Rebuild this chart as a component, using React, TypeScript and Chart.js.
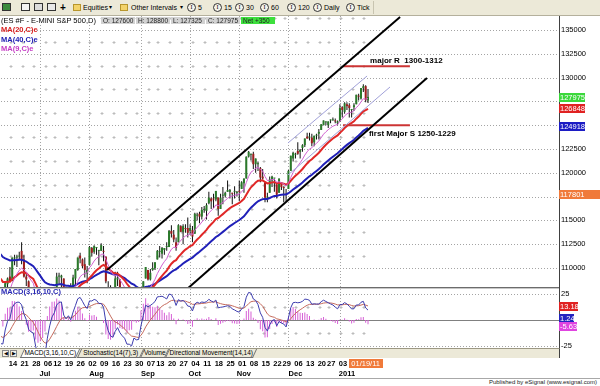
import React, { useEffect, useRef } from "react";
import { Chart, registerables } from "chart.js";

Chart.register(...registerables);

// trading-day index of the first bar (Tue 1 Jun 2010); index 0 = Mon 14 Jun 2010
const firstBarIndex = -9;

// ES #F daily bars, points
const opens = [
  1085, 1068, 1095, 1097, 1061, 1047, 1058, 1053, 1083,
  1091, 1087, 1110, 1111, 1112,
  1118, 1109, 1091, 1086, 1069,
  1073, 1067, 1036, 1027, 1024,
  1024, 1024, 1058, 1066,
  1073, 1076, 1091, 1090, 1089,
  1062, 1060, 1080, 1068, 1089,
  1098, 1113, 1109, 1104, 1094,
  1103, 1121, 1117, 1121, 1118,
  1118, 1118, 1112, 1077, 1078,
  1073, 1077, 1088, 1088, 1071,
  1069, 1058, 1044, 1052, 1045,
  1059, 1042, 1045, 1076, 1089,
  1098, 1088, 1098, 1100,
  1109, 1117, 1115, 1119, 1122,
  1122, 1139, 1135, 1127, 1127,
  1144, 1138, 1142, 1142, 1139,
  1140, 1136, 1155, 1157, 1154,
  1161, 1160, 1168, 1173, 1173,
  1172, 1174, 1162, 1176, 1176,
  1180, 1180, 1179, 1180, 1179,
  1181, 1183, 1189, 1194, 1217,
  1219, 1220, 1209, 1209, 1205,
  1196, 1190, 1174, 1179, 1192,
  1194, 1188, 1179, 1190,
  1185, 1178, 1183, 1202, 1215,
  1219, 1223, 1222, 1226, 1229,
  1238, 1237, 1237, 1232, 1239,
  1241, 1245, 1250, 1253,
  1250, 1255, 1255, 1255, 1252,
  1254, 1269, 1264, 1272, 1271,
  1266, 1269, 1272, 1281, 1278,
  1289, 1291, 1276,
];
const highs = [
  1094, 1096, 1103, 1098, 1066, 1059, 1074, 1085, 1090,
  1101, 1111, 1114, 1114, 1117,
  1127, 1114, 1095, 1087, 1079,
  1078, 1067, 1045, 1029, 1028,
  1038, 1056, 1067, 1074,
  1077, 1095, 1095, 1093, 1089,
  1070, 1080, 1084, 1093, 1099,
  1111, 1116, 1110, 1111, 1102,
  1123, 1122, 1124, 1122, 1119,
  1126, 1123, 1112, 1086, 1082,
  1078, 1096, 1096, 1088, 1071,
  1077, 1058, 1055, 1057, 1061,
  1060, 1051, 1077, 1086, 1101,
  1098, 1099, 1106, 1106,
  1119, 1123, 1122, 1121, 1127,
  1140, 1145, 1140, 1132, 1146,
  1145, 1146, 1146, 1153, 1146,
  1144, 1158, 1158, 1159, 1164,
  1165, 1168, 1180, 1174, 1178,
  1181, 1174, 1178, 1185, 1180,
  1192, 1183, 1179, 1186, 1181,
  1192, 1191, 1194, 1217, 1223,
  1220, 1222, 1215, 1212, 1206,
  1204, 1190, 1179, 1196, 1197,
  1194, 1188, 1194, 1190,
  1186, 1183, 1203, 1218, 1222,
  1221, 1232, 1225, 1230, 1236,
  1242, 1242, 1241, 1239, 1241,
  1246, 1251, 1255, 1254,
  1254, 1256, 1258, 1257, 1255,
  1272, 1270, 1274, 1274, 1273,
  1267, 1273, 1282, 1283, 1289,
  1293, 1292, 1288,
];
const lows = [
  1067, 1066, 1088, 1058, 1046, 1039, 1050, 1052, 1075,
  1085, 1086, 1103, 1101, 1109,
  1104, 1090, 1081, 1067, 1063,
  1067, 1034, 1025, 1006, 1011,
  1010, 1024, 1054, 1064,
  1066, 1076, 1083, 1076, 1059,
  1057, 1053, 1063, 1068, 1083,
  1097, 1105, 1100, 1090, 1084,
  1103, 1112, 1115, 1114, 1103,
  1118, 1107, 1084, 1072, 1075,
  1065, 1077, 1081, 1066, 1059,
  1063, 1042, 1035, 1041, 1035,
  1044, 1036, 1045, 1076, 1089,
  1087, 1087, 1097, 1098,
  1109, 1111, 1110, 1114, 1118,
  1122, 1132, 1127, 1118, 1127,
  1138, 1125, 1137, 1132, 1135,
  1127, 1136, 1150, 1147, 1151,
  1158, 1151, 1167, 1162, 1163,
  1170, 1155, 1162, 1167, 1174,
  1180, 1173, 1167, 1173, 1175,
  1170, 1183, 1179, 1194, 1216,
  1213, 1204, 1200, 1202, 1190,
  1193, 1169, 1169, 1179, 1185,
  1180, 1173, 1179, 1182,
  1169, 1170, 1183, 1202, 1212,
  1215, 1219, 1215, 1222, 1227,
  1236, 1234, 1228, 1228, 1235,
  1235, 1245, 1250, 1250,
  1247, 1252, 1255, 1252, 1250,
  1254, 1258, 1262, 1266, 1258,
  1258, 1265, 1272, 1276, 1277,
  1285, 1274, 1273.25,
];
const closes = [
  1068, 1095, 1099, 1061, 1047, 1058, 1052, 1084, 1089,
  1086, 1111, 1110, 1112, 1113,
  1109, 1091, 1088, 1070, 1073,
  1071, 1037, 1027, 1023, 1019,
  1024, 1056, 1066, 1074,
  1075, 1091, 1091, 1092, 1061,
  1067, 1079, 1066, 1090, 1099,
  1111, 1110, 1102, 1098, 1098,
  1122, 1116, 1123, 1122, 1118,
  1124, 1117, 1086, 1080, 1075,
  1075, 1089, 1090, 1072, 1068,
  1063, 1048, 1051, 1043, 1061,
  1045, 1045, 1076, 1086, 1101,
  1088, 1095, 1100, 1106,
  1118, 1117, 1121, 1121, 1122,
  1139, 1136, 1130, 1121, 1145,
  1138, 1144, 1141, 1137, 1142,
  1133, 1157, 1156, 1154, 1161,
  1161, 1166, 1174, 1170, 1172,
  1181, 1162, 1174, 1176, 1179,
  1182, 1182, 1178, 1180, 1179,
  1180, 1190, 1194, 1217, 1222,
  1219, 1209, 1215, 1209, 1195,
  1194, 1174, 1175, 1193, 1196,
  1194, 1177, 1194, 1185,
  1184, 1177, 1202, 1218, 1221,
  1219, 1220, 1224, 1229, 1236,
  1236, 1237, 1231, 1239, 1240,
  1243, 1251, 1255, 1253,
  1254, 1255, 1256, 1254, 1254,
  1268, 1266, 1273, 1270, 1268,
  1266, 1271, 1282, 1280, 1289,
  1291, 1276.25, 1279.75,
];

// starting values of the averages at the first bar
const ema9Seed = 1088;
const ema20Seed = 1105;
const ema40Seed = 1130;
const macdFastSeed = 1082;
const macdSlowSeed = 1098;
const macdSignalSeed = -12;

// weekly date axis (trading-day index of first session of each week)
const weekIdx = [0, 5, 10, 15, 19, 24, 29, 34, 39, 44, 49, 54, 59, 63, 68, 73, 78, 83, 88, 93, 98, 103, 108, 113, 117, 122, 127, 132, 136, 141, 146, 151];
const weekLabels = ["14", "21", "28", "06", "12", "19", "26", "02", "09", "16", "23", "30", "07", "13", "20", "27", "04", "11", "18", "25", "01", "08", "15", "22", "29", "06", "13", "20", "27", "03", "10", "18"];
const monthIdx = [15, 37, 59, 79, 100, 122, 144];
const monthLabels = ["Jul", "Aug", "Sep", "Oct", "Nov", "Dec", "2011"];
const monthStartIdx = [13, 34, 56, 77, 98, 119, 141];
const cursorIdx = 152;
const cursorLabel = "01/19/11";

// price axis (price x 100)
const priceGridLevels = [110000, 112500, 115000, 117500, 120000, 122500, 125000, 127500, 130000, 132500, 135000];
const priceTickLabels = [110000, 112500, 115000, 120000, 122500, 130000, 132500, 135000];
const priceTagValues = [127975, 126848, 124918, 117801];
const macdTicks = [25, 0, -25];
const macdTagValues = [13.18, 1.24, -5.63];

// drawn studies: [trading-day index, price x 100]
const upperChannel = [[41.5, 109790], [166.7, 136366]];
const lowerChannel = [[75.7, 107795], [178.2, 129958]];
const innerUpper = [[118.8, 123130], [152.6, 130168]];
const innerLower = [[118.8, 119770], [162.4, 129013]];
const resistanceLine = [[142.3, 131200], [170.9, 131200]];
const supportLine = [[142.3, 125000], [170.9, 125000]];
const noteTexts = ["major R  1300-1312", "first Major S 1250-1229"];
const noteAnchors = [[153.9, 131750], [153.4, 124076]];

const FONT = '"Liberation Sans", Arial, sans-serif';

function ema(values: number[], period: number, seed: number) {
  const k = 2 / (period + 1);
  let prev = seed;
  return values.map((v) => (prev = prev + k * (v - prev)));
}

const panelPlugin = {
  id: "panels",
  beforeDatasetsDraw(chart: any) {
    const { ctx, chartArea: ca, scales } = chart;
    const xs = scales.x, ys = scales.y, ms = scales.macd;
    ctx.save();
    ctx.lineWidth = 1;
    const hline = (py: number, color: string) => {
      const yy = Math.round(py) + 0.5;
      ctx.strokeStyle = color;
      ctx.beginPath(); ctx.moveTo(ca.left, yy); ctx.lineTo(ca.right, yy); ctx.stroke();
    };
    ctx.setLineDash([1, 2]);
    priceGridLevels.forEach((v) => hline(ys.getPixelForValue(v), "#a4a4a4"));
    [25, -25].forEach((v) => hline(ms.getPixelForValue(v), "#a4a4a4"));
    ctx.strokeStyle = "#a4a4a4";
    monthStartIdx.forEach((i) => {
      const xx = Math.round(xs.getPixelForValue(i)) + 0.5;
      ctx.beginPath(); ctx.moveTo(xx, ca.top); ctx.lineTo(xx, ca.bottom); ctx.stroke();
    });
    ctx.setLineDash([]);
    ctx.strokeStyle = "#bcbcbc";
    const plus = (px: number, py: number) => {
      const a = Math.round(px) + 0.5, b = Math.round(py) + 0.5;
      ctx.beginPath(); ctx.moveTo(a - 1, b); ctx.lineTo(a + 2, b); ctx.moveTo(a + 0.5, b - 1.5); ctx.lineTo(a + 0.5, b + 1.5); ctx.stroke();
    };
    weekIdx.forEach((i) => {
      const px = xs.getPixelForValue(i);
      priceGridLevels.forEach((v) => plus(px, ys.getPixelForValue(v + 1250)));
      [12.5, -12.5].forEach((v) => plus(px, ms.getPixelForValue(v)));
    });
    hline(ms.getPixelForValue(0), "#808080");
    ctx.restore();
  },
  beforeDatasetDraw(chart: any, args: any) {
    const ds = chart.data.datasets[args.index];
    const sc = chart.scales[ds.yAxisID || "y"];
    const ca = chart.chartArea;
    chart.ctx.save();
    chart.ctx.beginPath();
    chart.ctx.rect(ca.left, sc.top, ca.right - ca.left, sc.bottom - sc.top);
    chart.ctx.clip();
  },
  afterDatasetDraw(chart: any) {
    chart.ctx.restore();
  },
  afterDatasetsDraw(chart: any) {
    const { ctx, chartArea: ca, scales } = chart;
    const xs = scales.x, ys = scales.y, ms = scales.macd;
    ctx.save();
    // panel separator
    const sep = Math.round(ys.bottom);
    ctx.fillStyle = "#6c6c6c"; ctx.fillRect(0, sep - 1, ca.right, 1);
    ctx.fillStyle = "#c8c8c8"; ctx.fillRect(0, sep, ca.right, 1);
    // notes
    ctx.font = `bold 8px ${FONT}`;
    ctx.fillStyle = "#000";
    ctx.textBaseline = "middle";
    ctx.textAlign = "left";
    noteTexts.forEach((t, k) => {
      ctx.fillText(t, xs.getPixelForValue(noteAnchors[k][0]), ys.getPixelForValue(noteAnchors[k][1]));
    });
    // value tags
    ctx.font = `7.5px ${FONT}`;
    const tag = (yy: number, text: string, bg: string, w: number) => {
      ctx.fillStyle = bg; ctx.fillRect(ca.right, yy - 4, w, 9);
      ctx.fillStyle = "#fff"; ctx.fillText(text, ca.right + 1, yy + 0.5);
    };
    const priceTagColors = ["#3bd83b", "#e02222", "#1c1cc4", "#f07a3a"];
    const priceTagWidths = [26, 26, 26, 41];
    priceTagValues.forEach((v, k) => tag(Math.round(ys.getPixelForValue(v)), String(v), priceTagColors[k], priceTagWidths[k]));
    // macd tags, stacked upward from the lowest so they do not collide
    const macdTagColors = ["#e02222", "#2424c0", "#e044e0"];
    const macdTagWidths = [19, 15, 18];
    const order = macdTagValues.map((v, k) => k).sort((a, b) => macdTagValues[a] - macdTagValues[b]);
    let prevY = Infinity;
    const ys2: number[] = [];
    order.forEach((k) => {
      let yy = Math.round(ms.getPixelForValue(macdTagValues[k]));
      if (yy > prevY - 8) yy = prevY - 8;
      ys2[k] = yy; prevY = yy;
    });
    order.slice().reverse().forEach((k) => tag(ys2[k], macdTagValues[k].toFixed(2), macdTagColors[k], macdTagWidths[k]));
    // date axis
    ctx.font = `bold 7.5px ${FONT}`;
    ctx.textAlign = "center";
    ctx.fillStyle = "#000";
    weekIdx.forEach((i, k) => ctx.fillText(weekLabels[k], xs.getPixelForValue(i) + 3, ca.bottom + 15.5));
    monthIdx.forEach((i, k) => ctx.fillText(monthLabels[k], xs.getPixelForValue(i), ca.bottom + 25.5));
    const cx = xs.getPixelForValue(cursorIdx);
    ctx.fillStyle = "#f07a3a";
    ctx.fillRect(Math.round(cx - 17), ca.bottom + 11, 34, 9);
    ctx.fillStyle = "#fff";
    ctx.font = `7.5px ${FONT}`;
    ctx.fillText(cursorLabel, cx, ca.bottom + 15.5);
    ctx.restore();
  },
};

function Toolbar() {
  const text = (x: number, s: string, extra: any = {}) => (
    <span style={{ position: "absolute", left: x, top: 0, fontSize: 7, lineHeight: "15px", color: "#000", whiteSpace: "nowrap", ...extra }}>{s}</span>
  );
  const iconBox = (x: number, bg: string) => (
    <span style={{ position: "absolute", left: x, top: 3, width: 9, height: 8, background: bg, border: "1px solid #333", boxSizing: "border-box" }} />
  );
  const folder = (x: number) => (
    <span style={{ position: "absolute", left: x, top: 4, width: 8, height: 7, background: "#f3d36a", border: "1px solid #b8962c", boxSizing: "border-box" }} />
  );
  const intervals: [number, string][] = [[187, "5"], [213, "15"], [235, "30"], [260, "60"], [287, "120"], [313, "Daily"], [346, "Tick"]];
  return (
    <div style={{ position: "absolute", left: 0, top: 0, width: 600, height: 16, background: "#ece9d8", borderBottom: "1px solid #b4b09c", boxSizing: "border-box" }}>
      {iconBox(2, "#3c8c3c")}
      {iconBox(21, "#f4f4f4")}
      {iconBox(34, "#dcdcdc")}
      {iconBox(47, "#e8e8e8")}
      {text(60, "+", { fontSize: 10, fontWeight: "bold" })}
      {folder(73)}
      {text(83, "Equities")}
      {text(109, "\u25BE", { fontSize: 6 })}
      {folder(120)}
      {text(131, "Other Intervals")}
      {text(180, "\u25BE", { fontSize: 6 })}
      {intervals.map(([x, s]) => (
        <React.Fragment key={s}>
          <span style={{ position: "absolute", left: x, top: 3, width: 9, height: 9, borderRadius: "50%", border: "1px solid #333", boxSizing: "border-box", fontSize: 6, lineHeight: "7px", textAlign: "center", fontFamily: "serif", background: "#f4f2ea" }}>I</span>
          {text(x + 11, s)}
        </React.Fragment>
      ))}
      <span style={{ position: "absolute", left: 373, top: 1, width: 1, height: 13, background: "#c8c4b0" }} />
    </div>
  );
}

function Header() {
  const n = closes.length;
  const ohlc: [string, number][] = [["O", opens[n - 1]], ["H", highs[n - 1]], ["L", lows[n - 1]], ["C", closes[n - 1]]];
  const net = Math.round((closes[n - 1] - closes[n - 2]) * 100);
  const box = (x: number, s: string, bg: string) => (
    <span key={s} style={{ position: "absolute", left: x, top: 17, width: 34, height: 7, background: bg, fontSize: 6.5, lineHeight: "7px", color: "#222", paddingLeft: 2, boxSizing: "border-box", whiteSpace: "nowrap" }}>{s}</span>
  );
  return (
    <>
      <span style={{ position: "absolute", left: 1, top: 16, fontSize: 7.5, lineHeight: "9px", color: "#000", background: "#fff", whiteSpace: "nowrap" }}>(ES #F - E-MINI S&amp;P 500,D)</span>
      {ohlc.map(([k, v], i) => box(101 + i * 35, `${k}: ${Math.round(v * 100)}`, "#d2d2d2"))}
      {box(241, `Net ${net >= 0 ? "+" : ""}${net}`, "#3de03d")}
      {[["MA(20,C)e", "#d82020", 26], ["MA(40,C)e", "#2020b4", 35.5], ["MA(9,C)e", "#c43cc4", 45]].map(([t, c, y]) => (
        <span key={t as string} style={{ position: "absolute", left: 1, top: y as number, fontSize: 7.5, fontWeight: "bold", lineHeight: "8px", color: c as string, whiteSpace: "nowrap" }}>{t}</span>
      ))}
      <span style={{ position: "absolute", left: 1, top: 288, fontSize: 7.5, fontWeight: "bold", lineHeight: "8px", color: "#2a2ab4", whiteSpace: "nowrap" }}>MACD(3,16,10,C)</span>
    </>
  );
}

function TabBar() {
  const tabs: [number, number, string, boolean][] = [
    [22, 56, "MACD(3,16,10,C)", true],
    [79, 63, "Stochastic(14(7),3)", false],
    [142, 25, "Volume", false],
    [167, 88, "Directional Movement(14,14)", false],
  ];
  return (
    <div style={{ position: "absolute", left: 0, top: 348, width: 560, height: 10, background: "#ece9d8", borderTop: "1px solid #9c9884", borderRight: "1px solid #404040", boxSizing: "border-box" }}>
      {[2, 10].map((x, i) => (
        <span key={x} style={{ position: "absolute", left: x, top: 1, width: 7, height: 7, border: "1px solid #888", boxSizing: "border-box", background: "#f4f2ea", fontSize: 5, lineHeight: "5px", textAlign: "center" }}>{i === 0 ? "\u25C0" : "\u25B6"}</span>
      ))}
      {tabs.map(([x, w, t, active]) => (
        <div key={t} style={{ position: "absolute", left: x, top: 0, width: w, height: 9, background: active ? "#ffffff" : "#ece9d8", borderLeft: "1px solid #707070", borderRight: "1px solid #707070", borderBottom: "1px solid #707070", transform: "skewX(-25deg)", boxSizing: "border-box" }}>
          <span style={{ display: "block", transform: "skewX(25deg)", fontSize: 6.5, lineHeight: "8px", textAlign: "center", color: "#000", whiteSpace: "nowrap" }}>{t}</span>
        </div>
      ))}
    </div>
  );
}

export default function App() {
  const ref = useRef<HTMLCanvasElement>(null);

  useEffect(() => {
    const canvas = ref.current;
    if (!canvas) return;
    const idx = (i: number) => firstBarIndex + i;
    const ma9 = ema(closes, 9, ema9Seed);
    const ma20 = ema(closes, 20, ema20Seed);
    const ma40 = ema(closes, 40, ema40Seed);
    const fast = ema(closes, 3, macdFastSeed);
    const slow = ema(closes, 16, macdSlowSeed);
    const macd = fast.map((f, i) => f - slow[i]);
    const signal = ema(macd, 10, macdSignalSeed);
    const hist = macd.map((m, i) => m - signal[i]);

    const series = (arr: number[], scale: number) => arr.map((v, i) => ({ x: idx(i), y: v * scale }));
    const seg = (pts: number[][]) => pts.map(([x, y]) => ({ x, y }));
    const lineDs = (data: any[], color: string, width: number, order: number, yAxisID = "y") => ({
      type: "line", data, borderColor: color, borderWidth: width, pointRadius: 0, fill: false, order, yAxisID,
    });

    const chart = new Chart(canvas, {
      type: "bar",
      data: {
        datasets: [
          lineDs(seg(upperChannel), "#000000", 2, 0),
          lineDs(seg(lowerChannel), "#000000", 2, 0),
          lineDs(seg(innerUpper), "#a0a0d8", 1, 0),
          lineDs(seg(innerLower), "#a0a0d8", 1, 0),
          lineDs(seg(resistanceLine), "#cc3434", 2, 0),
          lineDs(seg(supportLine), "#cc3434", 2, 0),
          lineDs(series(ma9, 100), "#d060d0", 1, 1),
          lineDs(series(ma20, 100), "#e02828", 2, 1),
          lineDs(series(ma40, 100), "#2020b8", 2, 1),
          {
            type: "bar",
            data: closes.map((c, i) => ({ x: idx(i), y: [opens[i] * 100, c * 100] })),
            backgroundColor: closes.map((c, i) => (c >= opens[i] ? "#2a7a2a" : "#a01c1c")),
            barThickness: 2, grouped: false, minBarLength: 1, inflateAmount: 0, order: 2, yAxisID: "y",
          },
          {
            type: "bar",
            data: closes.map((_, i) => ({ x: idx(i), y: [lows[i] * 100, highs[i] * 100] })),
            backgroundColor: "#111111",
            barThickness: 1, grouped: false, inflateAmount: 0, order: 3, yAxisID: "y",
          },
          lineDs(series(macd, 1), "#3c3cae", 1, 0, "macd"),
          lineDs(series(signal, 1), "#c46a5c", 1, 0, "macd"),
          {
            type: "bar",
            data: hist.map((h, i) => ({ x: idx(i), y: h })),
            backgroundColor: "#d660d6",
            barThickness: 1, grouped: false, inflateAmount: 0, order: 1, yAxisID: "macd",
          },
        ] as any,
      },
      options: {
        responsive: false,
        animation: false,
        events: [],
        layout: { padding: { left: 1, right: 0, top: 0, bottom: 0 } },
        plugins: { legend: { display: false }, tooltip: { enabled: false } },
        scales: {
          x: {
            type: "linear", min: -3.8, max: 234.6, offset: false,
            grid: { display: false, drawTicks: false }, border: { display: false },
            ticks: { display: false },
            afterFit: (s: any) => { s.height = 30; s.paddingLeft = 0; s.paddingRight = 0; },
          },
          y: {
            type: "linear", position: "right", stack: "panels", stackWeight: 272,
            min: 107900, max: 136470, offset: false,
            grid: { display: false, drawTicks: false },
            border: { display: true, color: "#404040", width: 1 },
            afterBuildTicks: (s: any) => { s.ticks = priceGridLevels.map((v) => ({ value: v })); },
            ticks: {
              autoSkip: false, padding: 2, color: "#000", font: { family: FONT, size: 7.5 },
              callback: (v: any) => (priceTickLabels.includes(Number(v)) ? String(v) : ""),
            },
            afterFit: (s: any) => { s.width = 41; s.paddingTop = 0; s.paddingBottom = 0; },
          },
          macd: {
            type: "linear", position: "right", stack: "panels", stackWeight: 60,
            min: -26.92, max: 30.77, offset: false,
            grid: { display: false, drawTicks: false },
            border: { display: true, color: "#404040", width: 1 },
            afterBuildTicks: (s: any) => { s.ticks = macdTicks.map((v) => ({ value: v })); },
            ticks: { autoSkip: false, padding: 2, color: "#000", font: { family: FONT, size: 7.5 }, callback: (v: any) => String(v) },
            afterFit: (s: any) => { s.width = 41; s.paddingTop = 0; s.paddingBottom = 0; },
          },
        },
      } as any,
      plugins: [panelPlugin as any],
    });
    return () => chart.destroy();
  }, []);

  return (
    <div style={{ position: "relative", width: 600, height: 386, background: "#fff", overflow: "hidden", fontFamily: FONT }}>
      <style>{`body{margin:0;}`}</style>
      <Toolbar />
      <canvas ref={ref} width={600} height={362} style={{ position: "absolute", left: 0, top: 16, width: 600, height: 362 }} />
      <Header />
      <TabBar />
      <div style={{ position: "absolute", left: 0, top: 378, width: 600, height: 8, borderTop: "1px solid #a8a8a8", boxSizing: "border-box", background: "#fff" }}>
        <span style={{ position: "absolute", right: 3, top: 0, fontSize: 6, lineHeight: "7px", color: "#222", whiteSpace: "nowrap" }}>Published by eSignal (www.esignal.com)</span>
      </div>
    </div>
  );
}
